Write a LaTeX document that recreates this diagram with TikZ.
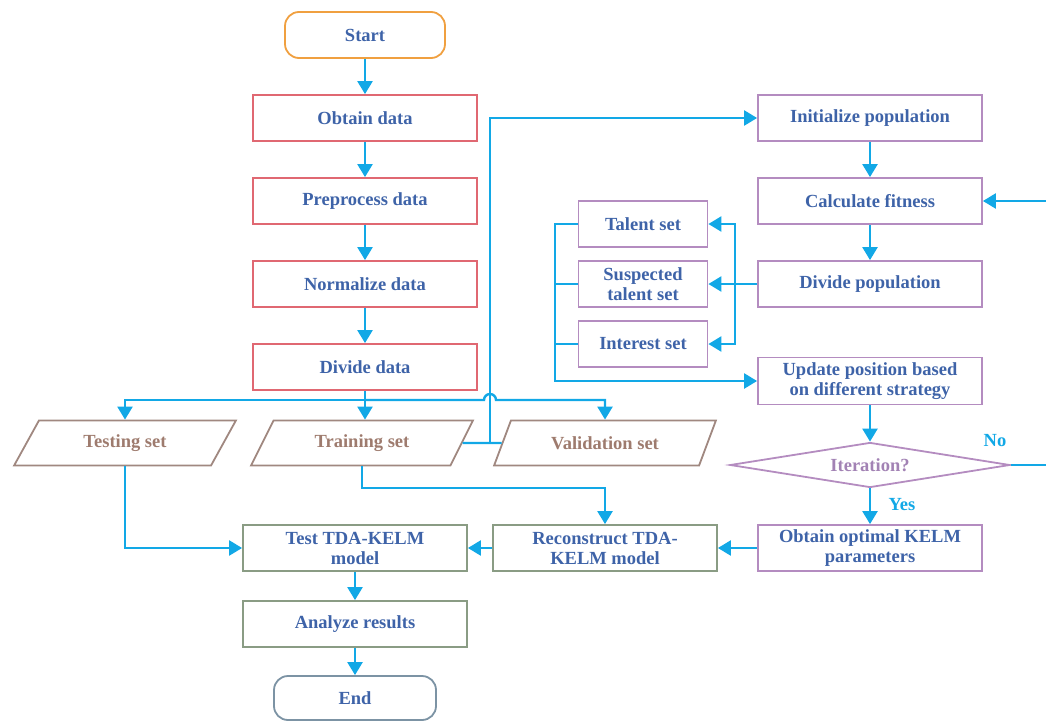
\documentclass[tikz,border=0pt]{standalone}
\usepackage{fontspec}
\setmainfont{Liberation Serif}
\usetikzlibrary{arrows.meta,shapes.geometric,calc}
\definecolor{arr}{HTML}{12A8E6}
\definecolor{txtblue}{HTML}{3E63A8}
\definecolor{boxred}{HTML}{E06872}
\definecolor{boxorange}{HTML}{F0A040}
\definecolor{boxpur}{HTML}{B48CC0}
\definecolor{boxgreen}{HTML}{8A9C84}
\definecolor{endgray}{HTML}{7C93A4}
\definecolor{partxt}{HTML}{9E7B6E}
\definecolor{parbord}{HTML}{A08880}
\definecolor{itertxt}{HTML}{A282B4}
\tikzset{
  base/.style={draw, line width=1.8pt, inner sep=1pt, align=center,
    font=\bfseries\fontsize{18.5}{20}\selectfont, text=txtblue},
  box/.style={base, minimum width=224pt, minimum height=46pt},
  redbox/.style={box, draw=boxred},
  purbox/.style={box, draw=boxpur},
  greenbox/.style={box, draw=boxgreen},
  setbox/.style={base, draw=boxpur, minimum width=129pt, minimum height=46pt},
  term/.style={base, rounded corners=14pt, minimum width=160pt, minimum height=46pt},
  para/.style={base, draw=parbord, text=partxt, trapezium, trapezium left angle=57,
    trapezium right angle=123, trapezium stretches=true, minimum width=222pt, minimum height=45pt},
  dia/.style={base, draw=boxpur, text=itertxt, diamond, aspect=6.2, minimum width=280pt, minimum height=45pt, inner sep=0pt},
  con/.style={draw=arr, line width=2.4pt, -{Triangle[length=13pt,width=15pt]}},
  wire/.style={draw=arr, line width=2.4pt},
  lab/.style={font=\bfseries\fontsize{18.5}{20}\selectfont, text=arr}
}
\begin{document}
\begin{tikzpicture}[x=1pt,y=-1pt]
\useasboundingbox (0,0) rectangle (1046,722);
% left column
\node[term, draw=boxorange] (start) at (365,35) {Start};
\node[redbox] (obtain) at (365,118) {Obtain data};
\node[redbox] (prep) at (365,201) {Preprocess data};
\node[redbox] (norm) at (365,284) {Normalize data};
\node[redbox] (divide) at (365,367) {Divide data};
\node[para] (testing) at (125,443) {Testing set};
\node[para] (train) at (362,443) {Training set};
\node[para] (val) at (605,443) {Validation set};
\node[greenbox] (test) at (355,548) {Test TDA-KELM\\model};
\node[greenbox] (recon) at (605,548) {Reconstruct TDA-\\KELM model};
\node[greenbox] (analyze) at (355,624) {Analyze results};
\node[term, draw=endgray, minimum width=162pt, minimum height=44pt] (end) at (355,698) {End};
% right column
\node[purbox] (init) at (870,118) {Initialize population};
\node[purbox] (fit) at (870,201) {Calculate fitness};
\node[purbox] (divpop) at (870,284) {Divide population};
\node[setbox] (talent) at (643,224) {Talent set};
\node[setbox] (susp) at (643,284) {Suspected\\talent set};
\node[setbox] (interest) at (643,344) {Interest set};
\node[purbox, minimum height=47pt] (update) at (870,381) {Update position based\\on different strategy};
\node[dia] (iter) at (870,465) {Iteration?};
\node[purbox] (optim) at (870,548) {Obtain optimal KELM\\parameters};
% coordinates
\coordinate (bus) at (365,400);
\coordinate (vx) at (490,443);
\coordinate (bx) at (735,284);
\coordinate (lb) at (555,381);
\coordinate (tj) at (605,488);
\coordinate (noend) at (1046,465);
\coordinate (fitin) at (1046,201);
% connectors
\draw[con] (start) -- (obtain);
\draw[con] (obtain) -- (prep);
\draw[con] (prep) -- (norm);
\draw[con] (norm) -- (divide);
\draw[con] (divide.south) -- (divide.south |- train.north);
\draw[con] (bus) -| (testing.north);
\draw[con] (bus) -- ($(vx |- bus)+(-6,0)$) arc[start angle=180, end angle=360, radius=6] -| (val.north);
\draw[wire] (train.east) -- (val.west);
\draw[con] (vx) |- (init.west);
\draw[con] (init) -- (fit);
\draw[con] (fit) -- (divpop);
\draw[con] (fitin) -- (fit.east);
\draw[con] (divpop) -- (susp);
\draw[con] (bx) |- (talent.east);
\draw[con] (bx) |- (interest.east);
\draw[con] (talent.west) -| (lb) -- (update.west);
\draw[wire] (susp.west) -- (susp.west -| lb);
\draw[wire] (interest.west) -- (interest.west -| lb);
\draw[con] (update) -- (iter);
\draw[con] (iter) -- node[lab, right=14pt, pos=0.45] {Yes} (optim);
\draw[wire] (iter.east) -- (noend);
\node[lab] at (995,441) {No};
\draw[con] (optim) -- (recon);
\draw[con] (recon) -- (test);
\draw[con] (train.south) |- (tj) -- (recon.north);
\draw[con] (testing.south) |- (test.west);
\draw[con] (test) -- (analyze);
\draw[con] (analyze) -- (end);
\end{tikzpicture}
\end{document}
